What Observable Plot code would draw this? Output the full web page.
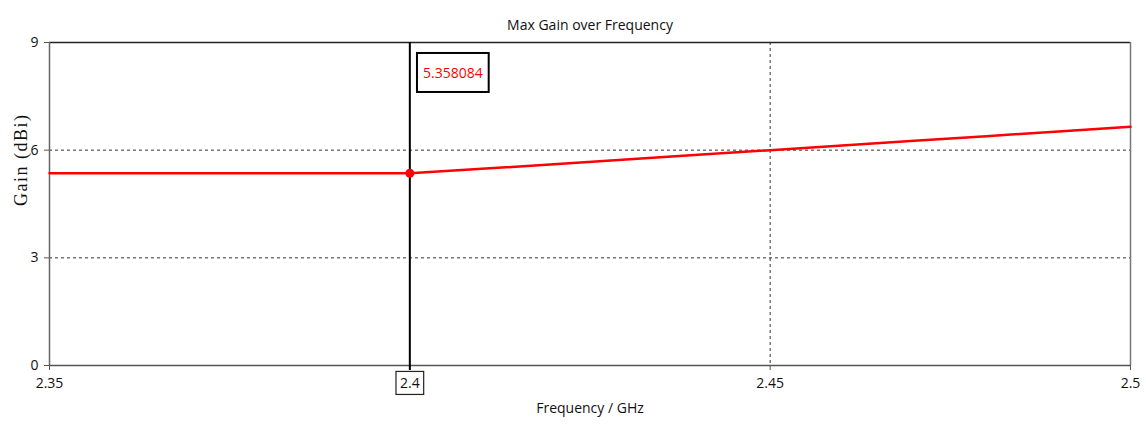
<!DOCTYPE html>
<html>
<head>
<meta charset="utf-8">
<script src="https://cdn.jsdelivr.net/npm/d3@7"></script>
<script src="https://cdn.jsdelivr.net/npm/@observablehq/plot@0.6"></script>
<style>
  html, body { margin: 0; padding: 0; background: #fff; }
  svg { display: block; }
</style>
</head>
<body>
<div id="chart"></div>
<script>
// Data
const freq = [2.35, 2.40, 2.41, 2.42, 2.43, 2.44, 2.45, 2.46, 2.47, 2.48, 2.49, 2.50];
const gain = [5.358084, 5.358084, 5.48, 5.61, 5.74, 5.87, 6.00, 6.13, 6.26, 6.39, 6.52, 6.65];
const xTicks = [2.35, 2.4, 2.45, 2.5];
const yTicks = [0, 3, 6, 9];
const gridX = [2.45];
const gridY = [3, 6];
const markerFreq = 2.4;
const markerGain = 5.358084;
const markerText = "5.358084";
const title = "Max Gain over Frequency";
const xLabel = "Frequency / GHz";
const yLabel = "Gain (dBi)";

const data = freq.map((f, i) => ({f, g: gain[i]}));
const font = "'Open Sans', 'DejaVu Sans', sans-serif";

const plot = Plot.plot({
  width: 1146,
  height: 426,
  marginLeft: 49,
  marginRight: 16,
  marginTop: 42,
  marginBottom: 61,
  style: {fontFamily: font, fontSize: "14px", background: "#fff", color: "#111"},
  x: {domain: [2.35, 2.5], axis: null},
  y: {domain: [0, 9], axis: null},
  marks: [
    Plot.gridY(gridY, {stroke: "#333", strokeOpacity: 1, strokeDasharray: "3,3"}),
    Plot.gridX(gridX, {stroke: "#333", strokeOpacity: 1, strokeDasharray: "3,3"}),
    Plot.ruleY([9], {stroke: "#222", strokeWidth: 1.5}),
    Plot.ruleX([2.5], {stroke: "#777", strokeWidth: 1.5}),
    Plot.ruleX([2.35], {stroke: "#666", strokeWidth: 1.5}),
    Plot.ruleY([0], {stroke: "#555", strokeWidth: 1.5}),
    Plot.axisX(xTicks, {tickSize: 5, tickPadding: 8, tickFormat: d => String(d), fontSize: 14, stroke: "#555", fill: "#111", label: null}),
    Plot.axisY(yTicks, {tickSize: 5, tickPadding: 6, tickFormat: d => String(d), fontSize: 14, stroke: "#555", fill: "#111", label: null}),
    Plot.ruleX([markerFreq], {stroke: "#000", strokeWidth: 2, insetBottom: -5}),
    Plot.line(data, {x: "f", y: "g", stroke: "#ff0000", strokeWidth: 2.5}),
    Plot.dot([{f: markerFreq, g: markerGain}], {x: "f", y: "g", r: 4.5, fill: "#ff0000", stroke: "none"}),
    Plot.text([markerText], {x: markerFreq, y: 9, dx: 43, dy: 31, fill: "#ff0000", fontSize: 14, className: "marker-label"}),
    Plot.text([title], {frameAnchor: "top", dy: -22, fontSize: 14, fill: "#111"}),
    Plot.text([xLabel], {frameAnchor: "bottom", dy: 47, fontSize: 14, fill: "#111"}),
    Plot.text([yLabel], {frameAnchor: "left", dx: -28, dy: 2, rotate: -90, fontSize: 18, fill: "#111", fontFamily: "'Liberation Serif', serif", style: "letter-spacing:1.5px"})
  ]
});

document.getElementById("chart").appendChild(plot);

const svg = d3.select(plot);
// letter spacing for y label
svg.selectAll("text").filter(function() { return this.textContent === yLabel; }).style("letter-spacing", "1.5px");

// Box around marker label
const lbl = svg.select("g.marker-label text").node();
if (lbl) {
  const b = lbl.getBBox();
  const t = lbl.getAttribute("transform");
  d3.select(lbl.parentNode).insert("rect", "text")
    .attr("x", b.x - 6).attr("y", b.y - 10).attr("width", b.width + 12).attr("height", b.height + 20)
    .attr("fill", "#fff").attr("stroke", "#000").attr("stroke-width", 2)
    .attr("transform", t);
}
// Box around the marker's tick label on the x axis
svg.selectAll("text").each(function() {
  if (this.textContent === String(markerFreq) && this.closest("g[aria-label='x-axis tick label']")) {
    const b = this.getBBox();
    const t = this.getAttribute("transform");
    d3.select(this.parentNode).insert("rect", "text")
      .attr("x", b.x - 4).attr("y", b.y - 2).attr("width", b.width + 8).attr("height", b.height + 4)
      .attr("fill", "#fff").attr("stroke", "#222").attr("stroke-width", 1.2)
      .attr("transform", t);
  }
});
</script>
</body>
</html>
